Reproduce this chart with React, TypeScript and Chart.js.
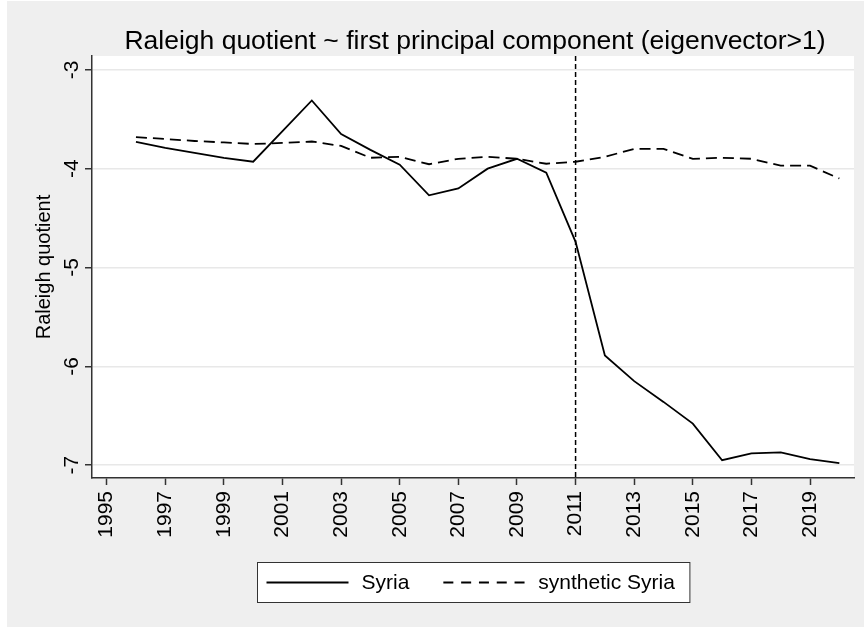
import { useEffect, useRef } from "react";
import { Chart, registerables } from "chart.js";

Chart.register(...registerables);

const TITLE = "Raleigh quotient ~ first principal component (eigenvector>1)";
const Y_TITLE = "Raleigh quotient";
const SERIES_LABELS = ["Syria", "synthetic Syria"];

const YEARS = [
  1996, 1997, 1998, 1999, 2000, 2001, 2002, 2003, 2004, 2005, 2006, 2007, 2008,
  2009, 2010, 2011, 2012, 2013, 2014, 2015, 2016, 2017, 2018, 2019, 2020,
];
const SYRIA = [
  -3.73, -3.79, -3.84, -3.89, -3.93, -3.62, -3.31, -3.65, -3.81, -3.96, -4.27,
  -4.2, -4.0, -3.9, -4.04, -4.74, -5.89, -6.15, -6.36, -6.58, -6.95, -6.88,
  -6.87, -6.94, -6.98,
];
const SYNTHETIC = [
  -3.68, -3.7, -3.72, -3.735, -3.75, -3.74, -3.725, -3.77, -3.89, -3.88, -3.955,
  -3.9, -3.88, -3.9, -3.95, -3.93, -3.88, -3.8, -3.8, -3.9, -3.89, -3.9, -3.97,
  -3.97, -4.1,
];
const X_TICKS = [1995, 1997, 1999, 2001, 2003, 2005, 2007, 2009, 2011, 2013, 2015, 2017, 2019];
const Y_TICKS = [-7, -6, -5, -4, -3];
const TREATMENT_YEAR = 2011;

const FONT = "'Liberation Sans', Arial, Helvetica, sans-serif";
const BG = "#efefef";
const AXIS = "#333333";

export default function App() {
  const ref = useRef<HTMLCanvasElement | null>(null);

  useEffect(() => {
    const canvas = ref.current;
    if (!canvas) return;

    const decor = {
      id: "stataDecor",
      beforeDraw(chart: any) {
        const { ctx, chartArea: a, width, height } = chart;
        ctx.save();
        ctx.fillStyle = "#ffffff";
        ctx.fillRect(0, 0, width, height);
        ctx.fillStyle = BG;
        ctx.fillRect(7, 1, width - 7, height - 1);
        ctx.fillStyle = "#ffffff";
        ctx.fillRect(a.left, a.top, a.right - a.left, a.bottom - a.top);
        ctx.restore();
      },
      afterDatasetsDraw(chart: any) {
        const { ctx, chartArea: a } = chart;
        const x = chart.scales.x.getPixelForValue(TREATMENT_YEAR);
        ctx.save();
        ctx.strokeStyle = "#000";
        ctx.lineWidth = 1.5;
        ctx.setLineDash([5, 3]);
        ctx.beginPath();
        ctx.moveTo(x, a.top);
        ctx.lineTo(x, a.bottom);
        ctx.stroke();
        ctx.restore();
      },
      afterDraw(chart: any) {
        const { ctx, chartArea: a } = chart;
        const cx = (a.left + a.right) / 2;
        const yScale = chart.scales.y;
        ctx.save();
        ctx.fillStyle = "#000";

        // title
        ctx.font = `26.5px ${FONT}`;
        ctx.textAlign = "center";
        ctx.textBaseline = "alphabetic";
        ctx.fillText(TITLE, cx + 2, a.top - 7);

        // y tick labels (rotated)
        ctx.font = `21px ${FONT}`;
        for (const t of yScale.ticks) {
          const py = yScale.getPixelForValue(t.value);
          ctx.save();
          ctx.translate(a.left - 14, py);
          ctx.rotate(-Math.PI / 2);
          ctx.textAlign = "center";
          ctx.textBaseline = "alphabetic";
          ctx.fillText(String(t.value), 0, 0);
          ctx.restore();
        }

        // y title
        ctx.font = `20px ${FONT}`;
        ctx.save();
        ctx.translate(a.left - 42, (a.top + a.bottom) / 2);
        ctx.rotate(-Math.PI / 2);
        ctx.textAlign = "center";
        ctx.textBaseline = "alphabetic";
        ctx.fillText(Y_TITLE, 0, 0);
        ctx.restore();

        // legend
        ctx.font = `21px ${FONT}`;
        const w1 = ctx.measureText(SERIES_LABELS[0]).width;
        const w2 = ctx.measureText(SERIES_LABELS[1]).width;
        const padL = 9, padR = 15, lineLen = 82, gapT = 13, gapItem = 34;
        const boxW = padL + lineLen + gapT + w1 + gapItem + lineLen + gapT + w2 + padR;
        const boxH = 40;
        const bx = Math.round(cx - boxW / 2) + 0.5;
        const by = a.bottom + 84 + 0.5;
        ctx.fillStyle = "#ffffff";
        ctx.fillRect(bx, by, boxW, boxH);
        ctx.strokeStyle = AXIS;
        ctx.lineWidth = 1;
        ctx.strokeRect(bx, by, boxW, boxH);
        const my = by + boxH / 2;
        let x = bx + padL;
        ctx.strokeStyle = "#000";
        ctx.lineWidth = 1.8;
        ctx.setLineDash([]);
        ctx.beginPath();
        ctx.moveTo(x, my);
        ctx.lineTo(x + lineLen, my);
        ctx.stroke();
        x += lineLen + gapT;
        ctx.fillStyle = "#000";
        ctx.textAlign = "left";
        ctx.textBaseline = "middle";
        ctx.fillText(SERIES_LABELS[0], x, my + 1);
        x += w1 + gapItem;
        ctx.setLineDash([10, 7.8]);
        ctx.beginPath();
        ctx.moveTo(x, my);
        ctx.lineTo(x + lineLen, my);
        ctx.stroke();
        ctx.setLineDash([]);
        x += lineLen + gapT;
        ctx.fillText(SERIES_LABELS[1], x, my + 1);
        ctx.restore();
      },
    };

    const toPoints = (vals: number[]) => YEARS.map((yr, i) => ({ x: yr, y: vals[i] }));

    const chart = new Chart(canvas, {
      type: "line",
      data: {
        datasets: [
          {
            label: SERIES_LABELS[0],
            data: toPoints(SYRIA),
            borderColor: "#000",
            borderWidth: 1.8,
            pointRadius: 0,
            tension: 0,
            fill: false,
          },
          {
            label: SERIES_LABELS[1],
            data: toPoints(SYNTHETIC),
            borderColor: "#000",
            borderWidth: 1.8,
            borderDash: [11, 6],
            pointRadius: 0,
            tension: 0,
            fill: false,
          },
        ],
      },
      options: {
        responsive: false,
        animation: false,
        layout: { padding: { left: 32, right: 10, top: 56, bottom: 49 } },
        plugins: {
          legend: { display: false },
          title: { display: false },
          tooltip: { enabled: false },
        },
        scales: {
          x: {
            type: "linear",
            min: 1994.5,
            max: 2020.5,
            afterBuildTicks: (s: any) => {
              s.ticks = X_TICKS.map((v) => ({ value: v }));
            },
            afterFit: (s: any) => {
              s.height = 100;
            },
            grid: {
              drawOnChartArea: false,
              drawTicks: true,
              tickLength: 7,
              tickColor: AXIS,
              tickWidth: 1.5,
            },
            border: { display: true, color: AXIS, width: 1.5 },
            ticks: {
              autoSkip: false,
              minRotation: 90,
              maxRotation: 90,
              padding: 6,
              color: "#000",
              font: { family: FONT, size: 21 },
              callback: (v: any) => String(v),
            },
          },
          y: {
            type: "linear",
            min: -7.13,
            max: -2.86,
            afterBuildTicks: (s: any) => {
              s.ticks = Y_TICKS.map((v) => ({ value: v }));
            },
            afterFit: (s: any) => {
              s.width = 60;
            },
            grid: {
              drawOnChartArea: true,
              color: "#e8e8e8",
              lineWidth: 1.5,
              drawTicks: true,
              tickLength: 7,
              tickColor: AXIS,
              tickWidth: 1.5,
            },
            border: { display: true, color: AXIS, width: 1.5 },
            ticks: { display: false },
          },
        },
      },
      plugins: [decor],
    } as any);

    return () => chart.destroy();
  }, []);

  return (
    <canvas
      ref={ref}
      width={864}
      height={627}
      style={{ position: "fixed", left: 0, top: 0, width: 864, height: 627, display: "block" }}
    />
  );
}
